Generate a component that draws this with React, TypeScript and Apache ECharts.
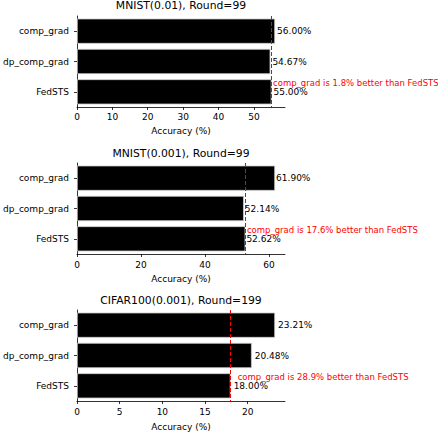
import React, { useEffect, useRef } from "react";
import * as echarts from "echarts";

const categories = ["comp_grad", "dp_comp_grad", "FedSTS"];
const titles = ["MNIST(0.01), Round=99", "MNIST(0.001), Round=99", "CIFAR100(0.001), Round=199"];
const mnist001Values = [56.0, 54.67, 55.0];
const mnist0001Values = [61.9, 52.14, 52.62];
const cifarValues = [23.21, 20.48, 18.0];
const xTicks1 = [0, 10, 20, 30, 40, 50];
const xTicks2 = [0, 20, 40, 60];
const xTicks3 = [0, 5, 10, 15, 20];
const xAxisName = "Accuracy (%)";

const FONT = "DejaVu Sans";

export default function App() {
  const ref = useRef<HTMLDivElement>(null);
  useEffect(() => {
    document.body.style.margin = "0";
    const chart = echarts.init(ref.current!, null, { renderer: "svg" });
    const datasets = [mnist001Values, mnist0001Values, cifarValues];
    const ticks = [xTicks1, xTicks2, xTicks3];
    const tops = [16, 163, 310];
    const titleTops = [0, 147.5, 294.5];
    const nameGaps = [19, 20, 21];
    const labelMargins = [5, 6, 6];
    const valueDist = [2, 1, 3];
    const annOffsetX = [1.5, 1.5, 7];

    const grids = tops.map((t) => ({ left: 77, width: 208, top: t, height: 91 }));
    const xAxes = datasets.map((d, i) => ({
      type: "value",
      gridIndex: i,
      min: 0,
      max: Math.max(...d) * 1.05,
      name: xAxisName,
      nameLocation: "middle",
      nameGap: nameGaps[i],
      nameTextStyle: { fontFamily: FONT, fontSize: 9, color: "#000" },
      splitLine: { show: false },
      axisLine: { show: true, lineStyle: { color: "#000", width: 0.8 } },
      axisTick: { show: true, length: 3, customValues: ticks[i], lineStyle: { color: "#000", width: 0.8 } },
      axisLabel: { customValues: ticks[i], margin: labelMargins[i], fontFamily: FONT, fontSize: 9, color: "#000" },
    }));
    const yAxes = datasets.map((_, i) => ({
      type: "category",
      gridIndex: i,
      data: categories,
      inverse: true,
      axisLine: { show: true, lineStyle: { color: "#000", width: 0.8 } },
      axisTick: { show: true, length: 3, alignWithLabel: true, lineStyle: { color: "#000", width: 0.8 } },
      axisLabel: { margin: 8, fontFamily: FONT, fontSize: 9, color: "#000" },
    }));
    const series = datasets.map((d, i) => {
      const base = d[2];
      const imp = ((d[0] / base - 1) * 100).toFixed(1);
      return {
        type: "bar",
        xAxisIndex: i,
        yAxisIndex: i,
        data: d,
        barWidth: "83%",
        itemStyle: { color: "#000", borderColor: "#cccccc", borderWidth: 0.8 },
        label: {
          show: true,
          position: "right",
          distance: valueDist[i],
          fontFamily: FONT,
          fontSize: 9,
          color: "#000",
          formatter: (p: any) => p.value.toFixed(2) + "%",
        },
        markLine: {
          silent: true,
          symbol: "none",
          label: { show: false },
          lineStyle: { color: "#ff0000", type: [4, 2], width: 1 },
          data: [{ xAxis: base }],
        },
        markPoint: {
          silent: true,
          symbol: "circle",
          symbolSize: 0,
          data: [{ coord: [base, categories[2]] }],
          label: {
            show: true,
            position: "right",
            distance: 0,
            offset: [annOffsetX[i], -8.5],
            fontFamily: FONT,
            fontSize: 8.5,
            color: "#ff0000",
            formatter: `comp_grad is ${imp}% better than FedSTS`,
          },
        },
      };
    });

    chart.setOption({
      animation: false,
      backgroundColor: "#fff",
      title: titles.map((t, i) => ({
        text: t,
        left: 181,
        textAlign: "center",
        top: titleTops[i],
        padding: 0,
        textStyle: { fontFamily: FONT, fontSize: 10.8, fontWeight: "normal", color: "#000" },
      })),
      grid: grids,
      xAxis: xAxes,
      yAxis: yAxes,
      series,
    });
    return () => chart.dispose();
  }, []);
  return <div ref={ref} style={{ position: "absolute", left: 0, top: 0, width: 438, height: 434 }} />;
}
